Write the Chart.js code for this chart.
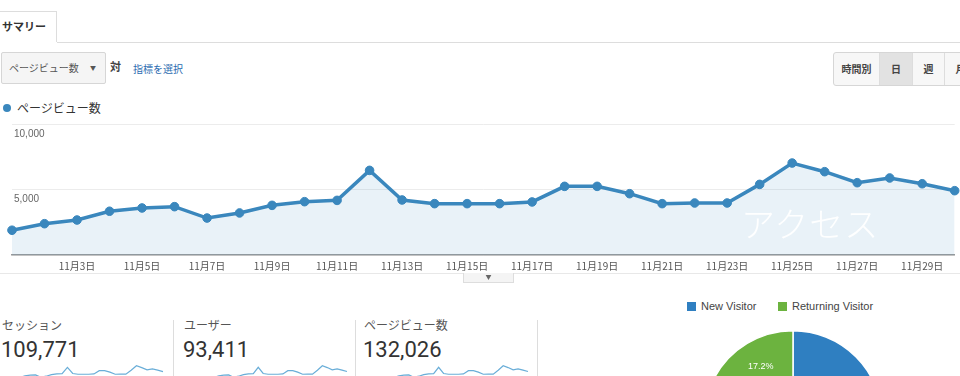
<!DOCTYPE html>
<html lang="ja">
<head>
<meta charset="utf-8">
<script src="https://cdn.jsdelivr.net/npm/chart.js@4/dist/chart.umd.min.js"></script>
<style>
  html, body { margin: 0; padding: 0; width: 960px; height: 376px; overflow: hidden; background: #fff; }
  body { position: relative; font-family: "Noto Sans CJK JP", "Liberation Sans", Arial, sans-serif; color: #333; }
  .abs { position: absolute; }
  .tab { left: -1px; top: 11px; width: 58px; height: 31px; border: 1px solid #ddd; border-bottom: none; background: #fff; font-size: 11px; font-weight: bold; line-height: 29px; padding-left: 2px; box-sizing: border-box; }
  .tabline { left: 57px; top: 42px; width: 910px; height: 0; border-top: 1px solid #ddd; }
  .drop { left: 1px; top: 52px; width: 105px; height: 32px; border: 1px solid #d6d6d6; border-radius: 2px; background: #f5f5f5; box-sizing: border-box; font-size: 10px; color: #555; line-height: 30px; padding-left: 7px; }
  .drop span { position: absolute; left: 88px; font-size: 6px; color: #555; }
  .vs { left: 110px; top: 58px; font-size: 11px; font-weight: bold; color: #444; }
  .pick { left: 133px; top: 61px; font-size: 10px; color: #2b6cb0; }
  .btns { left: 833px; top: 52px; height: 32px; border: 1px solid #d6d6d6; border-radius: 3px; display: flex; background: #f7f7f7; }
  .btns div { font-size: 10px; font-weight: bold; color: #444; line-height: 32px; text-align: center; border-right: 1px solid #ddd; }
  .btns .on { background: #e2e2e2; }
  .dot { left: 3px; top: 104px; width: 8px; height: 8px; border-radius: 50%; background: #3a87bd; }
  .ltxt { left: 17px; top: 99px; font-size: 12px; color: #333; }
  .under { left: 0; top: 273px; width: 960px; height: 0; border-top: 1px solid #e8e8e8; }
  .handle { left: 463px; top: 273px; width: 49px; height: 9px; border: 1px solid #ddd; border-top: none; background: #f4f4f4; font-size: 6px; color: #666; text-align: center; line-height: 8px; }
  .wm { left: 741px; top: 198px; font-size: 34px; color: rgba(255,255,255,0.95); letter-spacing: 1px; font-weight: 300; }
  .mlabel { font-size: 12px; color: #555; top: 316px; }
  .mval { font-family: Roboto, "Liberation Sans", Arial, sans-serif; font-size: 22px; color: #333; top: 337px; }
  .vline { top: 320px; width: 0; height: 60px; border-left: 1px solid #ddd; }
  .leg { top: 300px; font-family: "Liberation Sans", Arial, sans-serif; font-size: 11px; color: #444; display: flex; align-items: center; }
  .leg i { display: inline-block; width: 9px; height: 9px; margin-right: 5px; }
</style>
</head>
<body>
<div class="abs tab">サマリー</div>
<div class="abs tabline"></div>
<div class="abs drop">ページビュー数<span>▼</span></div>
<div class="abs vs">対</div>
<div class="abs pick">指標を選択</div>
<div class="abs btns">
  <div style="width:45px">時間別</div>
  <div class="on" style="width:32px">日</div>
  <div style="width:31px">週</div>
  <div style="width:31px;border-right:none">月</div>
</div>
<div class="abs dot"></div>
<div class="abs ltxt">ページビュー数</div>

<canvas id="mainChart" class="abs" width="960" height="170" style="left:0;top:112px"></canvas>
<div class="abs under"></div>
<div class="abs handle">▼</div>
<div class="abs wm">アクセス</div>

<div class="abs mlabel" style="left:2px">セッション</div>
<div class="abs mval" style="left:1px">109,771</div>
<div class="abs vline" style="left:173px"></div>
<div class="abs mlabel" style="left:184px">ユーザー</div>
<div class="abs mval" style="left:183px">93,411</div>
<div class="abs vline" style="left:355px"></div>
<div class="abs mlabel" style="left:364px">ページビュー数</div>
<div class="abs mval" style="left:363px">132,026</div>
<div class="abs vline" style="left:537px"></div>

<canvas id="spark1" class="abs" width="156" height="22" style="left:8px;top:364px"></canvas>
<canvas id="spark2" class="abs" width="145" height="22" style="left:203px;top:364px"></canvas>
<canvas id="spark3" class="abs" width="146" height="22" style="left:383px;top:364px"></canvas>

<div class="abs leg" style="left:687px"><i style="background:#2f7fc1"></i>New Visitor</div>
<div class="abs leg" style="left:778px"><i style="background:#6cb33f"></i>Returning Visitor</div>
<canvas id="pieChart" class="abs" width="180" height="180" style="left:703px;top:330px"></canvas>

<script>
// ===== DATA =====
const days = [
  "11月1日", "11月2日", "11月3日", "11月4日", "11月5日", "11月6日", "11月7日", "11月8日", "11月9日", "11月10日",
  "11月11日", "11月12日", "11月13日", "11月14日", "11月15日", "11月16日", "11月17日", "11月18日", "11月19日", "11月20日",
  "11月21日", "11月22日", "11月23日", "11月24日", "11月25日", "11月26日", "11月27日", "11月28日", "11月29日", "11月30日"
];
const pageViews = [
  1890, 2390, 2670, 3340, 3590, 3690, 2820, 3210, 3790, 4070,
  4170, 6460, 4200, 3920, 3920, 3920, 4050, 5240, 5240, 4680,
  3920, 3970, 3970, 5390, 7020, 6360, 5520, 5880, 5440, 4910
];
const yTicks = [0, 5000, 10000];

const visitorLabels = ["New Visitor", "Returning Visitor"];
const visitorShare = [82.8, 17.2];
const visitorColors = ["#2f7fc1", "#6cb33f"];

const lineBlue = "#3a87bd";

// ===== MAIN LINE CHART =====
new Chart(document.getElementById("mainChart"), {
  type: "line",
  data: {
    labels: days,
    datasets: [{
      data: pageViews,
      borderColor: lineBlue,
      borderWidth: 3.5,
      backgroundColor: "rgba(58,135,189,0.11)",
      fill: "origin",
      tension: 0,
      pointRadius: 4.3,
      pointBackgroundColor: lineBlue,
      pointBorderColor: lineBlue,
      pointBorderWidth: 1
    }]
  },
  options: {
    responsive: false,
    animation: false,
    events: [],
    layout: { padding: { left: 8, right: 5, top: 12, bottom: 5 } },
    plugins: { legend: { display: false }, tooltip: { enabled: false } },
    scales: {
      x: {
        offset: false,
        grid: { display: true, drawOnChartArea: false, drawTicks: false, tickLength: 0 },
        border: { display: true, color: "#9a9a9a", width: 1.5 },
        ticks: {
          autoSkip: false, maxRotation: 0, padding: 5,
          color: "#555",
          font: { family: "'Noto Sans CJK JP', sans-serif", size: 10 },
          callback: (v, i) => (i > 0 && i % 2 === 0) ? days[i] : ""
        }
      },
      y: {
        min: yTicks[0], max: yTicks[yTicks.length - 1],
        afterBuildTicks: axis => { axis.ticks = yTicks.map(v => ({ value: v })); },
        grid: { color: "#ececec", drawTicks: false, tickLength: 0 },
        border: { display: false },
        ticks: {
          mirror: true, padding: 2, labelOffset: 10,
          color: "#666",
          font: { family: "'Liberation Sans', Arial, sans-serif", size: 10 },
          callback: v => v === 0 ? "" : v.toLocaleString("en-US")
        }
      }
    }
  }
});

// ===== SPARKLINES =====
["spark1", "spark2", "spark3"].forEach(id => {
  new Chart(document.getElementById(id), {
    type: "line",
    data: { labels: days, datasets: [{ data: pageViews, borderColor: "#6aaed8", borderWidth: 1.2, pointRadius: 0, fill: false, tension: 0 }] },
    options: {
      responsive: false, animation: false, events: [],
      layout: { padding: 1 },
      plugins: { legend: { display: false }, tooltip: { enabled: false } },
      scales: { x: { display: false }, y: { display: false, min: 0, max: 7300 } }
    }
  });
});

// ===== PIE =====
const pieLabels = {
  id: "pieLabels",
  afterDatasetsDraw(chart) {
    const ctx = chart.ctx;
    chart.getDatasetMeta(0).data.forEach((arc, i) => {
      const { x, y, startAngle, endAngle, outerRadius } = arc.getProps(["x", "y", "startAngle", "endAngle", "outerRadius"], true);
      const a = (startAngle + endAngle) / 2;
      const r = outerRadius * 0.7;
      ctx.save();
      ctx.fillStyle = "#fff";
      ctx.font = "9px 'Liberation Sans', Arial, sans-serif";
      ctx.textAlign = "center";
      ctx.textBaseline = "middle";
      ctx.fillText(visitorShare[i].toFixed(1) + "%", x + Math.cos(a) * r, y + Math.sin(a) * r);
      ctx.restore();
    });
  }
};

new Chart(document.getElementById("pieChart"), {
  type: "pie",
  data: { labels: visitorLabels, datasets: [{ data: visitorShare, backgroundColor: visitorColors, borderColor: "#fff", borderWidth: 1.5 }] },
  options: {
    responsive: false, animation: false, events: [],
    plugins: { legend: { display: false }, tooltip: { enabled: false } }
  },
  plugins: [pieLabels]
});
</script>
</body>
</html>
